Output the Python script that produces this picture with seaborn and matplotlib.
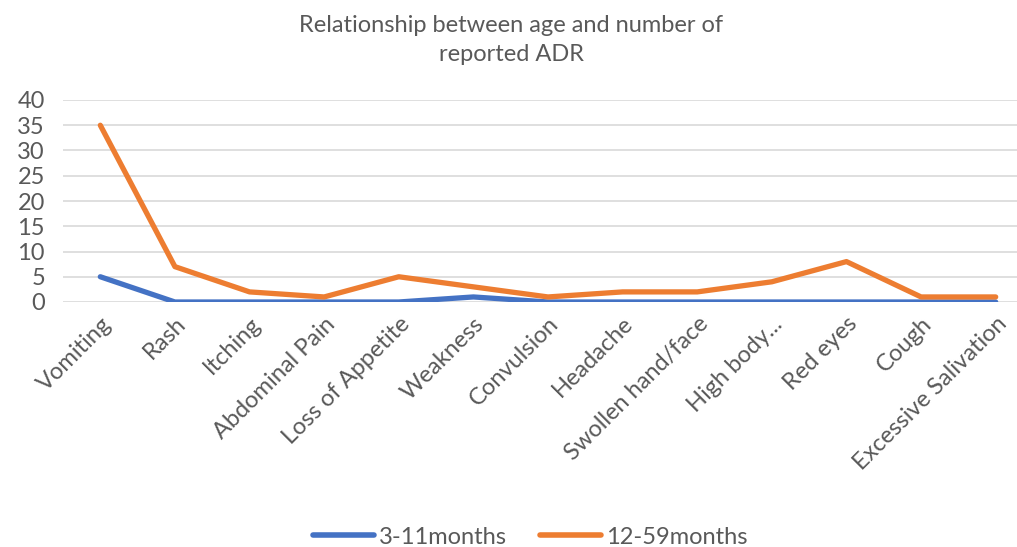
import matplotlib
matplotlib.use("Agg")
import matplotlib.pyplot as plt
import seaborn as sns
import pandas as pd
from matplotlib.lines import Line2D

categories = ["Vomiting", "Rash", "Itching", "Abdominal Pain", "Loss of Appetite",
              "Weakness", "Convulsion", "Headache", "Swollen hand/face",
              "High body...", "Red eyes", "Cough", "Excessive Salivation"]
series_3_11 = [5, 0, 0, 0, 0, 1, 0, 0, 0, 0, 0, 0, 0]
series_12_59 = [35, 7, 2, 1, 5, 3, 1, 2, 2, 4, 8, 1, 1]
series_names = ["3-11months", "12-59months"]
colors = ["#4472C4", "#ED7D31"]
title = "Relationship between age and number of\nreported ADR"

sns.set_theme(style="white")
plt.rcParams["font.family"] = ["Lato", "DejaVu Sans"]
txt = "#595959"
fs = 17

df = pd.DataFrame({
    "x": list(range(len(categories))) * 2,
    "value": series_3_11 + series_12_59,
    "series": [series_names[0]] * len(categories) + [series_names[1]] * len(categories),
})

fig = plt.figure(figsize=(10.17, 5.47), dpi=100)
ax = fig.add_axes([63 / 1017, 1 - 302 / 547, (1033 - 63) / 1017, (302 - 100) / 547])

sns.lineplot(data=df, x="x", y="value", hue="series", palette=colors,
             linewidth=3.8, ax=ax, legend=False, sort=False)

ax.set_xlim(-0.5, len(categories) - 0.5)
ax.set_ylim(0, 40)
ax.set_yticks(range(0, 41, 5))
ax.set_yticklabels([str(v) for v in range(0, 41, 5)], fontsize=fs, color=txt)
ax.set_xticks(range(len(categories)))
ax.set_xticklabels(categories, rotation=45, ha="right", rotation_mode="anchor",
                   fontsize=fs, color=txt)
ax.tick_params(axis="x", length=0, pad=8)
ax.tick_params(axis="y", length=0, pad=13)
ax.grid(axis="y", color="#D9D9D9", linewidth=1.2)
ax.set_axisbelow(True)
for s in ax.spines.values():
    s.set_visible(False)
ax.set_xlabel("")
ax.set_ylabel("")

fig.text(511 / 1017, 1 - 40 / 547, title, ha="center", va="center",
         fontsize=fs, color=txt, linespacing=1.45)

handles = [Line2D([0], [0], color=c, lw=4, solid_capstyle="round") for c in colors]
fig.legend(handles, series_names, loc="center", bbox_to_anchor=(530 / 1017, 1 - 537 / 547),
           ncol=2, frameon=False, fontsize=fs, labelcolor=txt, handlelength=2.6,
           columnspacing=1.4, handletextpad=0.2)

fig.savefig("out.png", dpi=100)
